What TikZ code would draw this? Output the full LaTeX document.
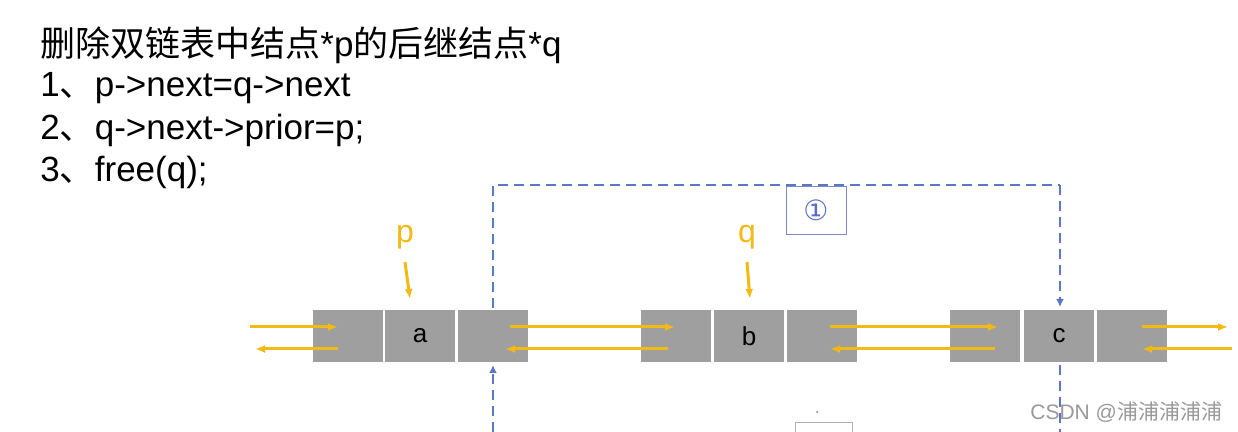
\documentclass[tikz,border=0pt]{standalone}
\usepackage{fontspec}
\setmainfont{Liberation Sans}
\newfontfamily\cjk{Noto Sans CJK SC}
\newfontfamily\djv{DejaVu Sans}
\usetikzlibrary{arrows.meta}
\begin{document}
\begin{tikzpicture}[x=0.5pt,y=-0.5pt,
  cell/.style={draw=white,line width=1pt,fill=gray!75,minimum width=36pt,minimum height=27pt,inner sep=0,font=\fontsize{13}{13}\selectfont},
  ya/.style={draw={rgb,255:red,245;green,185;blue,20},line width=1.5pt,-{Latex[length=5pt,width=4pt]}},
  bd/.style={draw={rgb,255:red,90;green,120;blue,200},line width=1pt,dashed,dash pattern=on 5pt off 3pt},
  txt/.style={anchor=west,inner sep=0,font=\fontsize{17.5}{17.5}\selectfont}]
\useasboundingbox (0,0) rectangle (1238,432);
\fill[white] (0,0) rectangle (1238,432);
\node[txt] (t0) at (40,45) {{\cjk 删除双链表中结点}*p{\cjk 的后继结点}*q};
\node[txt] (t1) at (40,88) {1{\cjk 、}p->next=q->next};
\node[txt] (t2) at (40,130) {2{\cjk 、}q->next->prior=p;};
\node[txt] (t3) at (40,172) {3{\cjk 、}free(q);};
% cells
\node[cell] (a1) at (348,336) {};
\node[cell] (a2) at (420,336) {a};
\node[cell] (a3) at (493,336) {};
\node[cell] (b1) at (676,336) {};
\node[cell] (b2) at (749,336) {b};
\node[cell] (b3) at (822,336) {};
\node[cell] (c1) at (985,336) {};
\node[cell] (c2) at (1059,336) {c};
\node[cell] (c3) at (1132,336) {};
% pointer labels
\node[text={rgb,255:red,245;green,185;blue,20},font=\fontsize{16}{16}\selectfont] (p) at (405,237) {p};
\node[text={rgb,255:red,245;green,185;blue,20},font=\fontsize{16}{16}\selectfont] (q) at (747,237) {q};
\coordinate (pa) at (410,299); \coordinate (qb) at (750,299);
\draw[ya] (405,262) -- (pa);
\draw[ya] (747,262) -- (qb);
% links
\coordinate (l0) at (250,327); \coordinate (l1) at (255,349);
\coordinate (r0) at (1228,327); \coordinate (r1) at (1232,349);
\draw[ya] (l0) -- (338,327);
\draw[ya] (338,349) -- (l1);
\draw[ya] (510,327) -- (675,327);
\draw[ya] (668,349) -- (505,349);
\draw[ya] (830,327) -- (998,327);
\draw[ya] (995,349) -- (830,349);
\draw[ya] (1142,327) -- (r0);
\draw[ya] (r1) -- (1142,349);
% dashed
\coordinate (d1) at (493,185); \coordinate (d2) at (1060,185);
\draw[bd] (a3.north) -- (d1) -- (d2);
\draw[bd,-{Latex[length=4pt,width=4pt]}] (d2) -- (1060,307);
\draw[bd,-{Latex[length=4pt,width=4pt]}] (493,432) -- (493,365);
\draw[bd] (1060,365) -- (1060,432);
\node[draw={rgb,255:red,120;green,140;blue,200},minimum width=30pt,minimum height=24pt,text={rgb,255:red,90;green,110;blue,190},font=\djv\fontsize{14}{14}\selectfont] (n1) at (816,210) {①};
\draw[gray!60] (795,432) -- (795,422) -- (852,422) -- (852,432);
\fill[gray] (817,412) circle (1);
\node[anchor=west,text=gray!80,inner sep=0,font=\fontsize{10.5}{10.5}\selectfont] (wm) at (1030,412) {CSDN @{\cjk 浦浦浦浦浦}};
\end{tikzpicture}
\end{document}
